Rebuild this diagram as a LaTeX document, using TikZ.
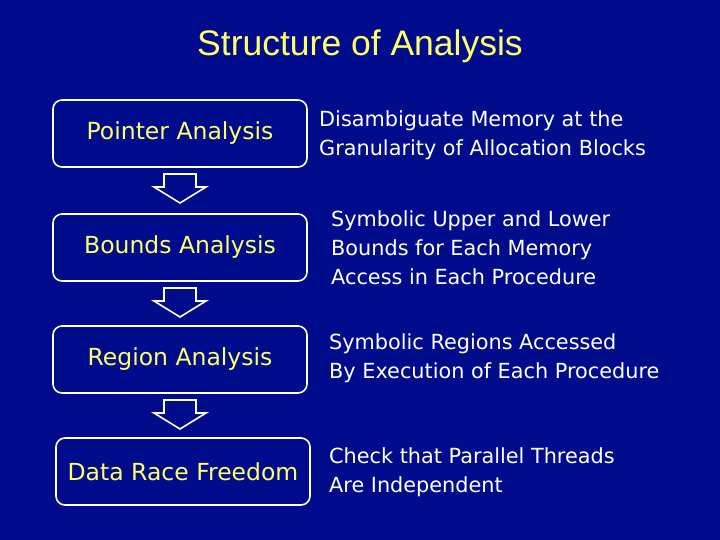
\documentclass[tikz,border=0pt]{standalone}
\usepackage{fontspec}
\setmainfont{DejaVu Sans}
\newfontfamily\titlefont{Liberation Sans}
\definecolor{bg}{HTML}{000C8C}
\definecolor{ylw}{HTML}{FFFF66}
\begin{document}
\begin{tikzpicture}[x=1pt,y=-1pt,
  box/.style={draw=white,line width=1.6pt,rounded corners=9pt,minimum width=254pt,minimum height=67pt,inner sep=0pt,text=ylw,font=\fontsize{23.5}{26}\selectfont},
  desc/.style={anchor=west,align=left,text=white,font=\fontsize{20.8}{29}\selectfont,inner sep=0pt},
  barrow/.style={draw=white,line width=1.6pt,fill=bg}]
\fill[bg] (0,0) rectangle (720,540);
\useasboundingbox (0,0) rectangle (720,540);
\node[text=ylw,font=\titlefont\fontsize{35.5}{38}\selectfont] (title) at (360,46) {Structure of Analysis};
\node[box] (b1) at (180,133.5) {Pointer Analysis};
\node[box] (b2) at (180,247.5) {Bounds Analysis};
\node[box] (b3) at (180,359.5) {Region Analysis};
\node[box] (b4) at (183,471.5) {Data Race Freedom};
\node[desc] (d1) at (319,135) {Disambiguate Memory at the\\Granularity of Allocation Blocks};
\node[desc] (d2) at (331,248) {Symbolic Upper and Lower\\Bounds for Each Memory\\Access in Each Procedure};
\node[desc] (d3) at (329,358) {Symbolic Regions Accessed\\By Execution of Each Procedure};
\node[desc] (d4) at (329,472) {Check that Parallel Threads\\Are Independent};
\foreach \y in {174,288,400}{
  \draw[barrow] (164,\y) -- (196,\y) -- (196,\y+13) -- (206,\y+13) -- (180,\y+29) -- (154,\y+13) -- (164,\y+13) -- cycle;
}
\end{tikzpicture}
\end{document}
